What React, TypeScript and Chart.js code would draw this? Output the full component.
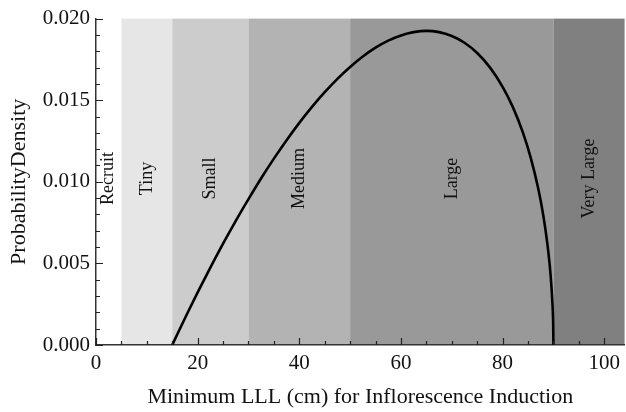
import React, { useEffect, useRef } from "react";
import { Chart, registerables } from "chart.js";

Chart.register(...registerables);

// Curve: minimum LLL (cm) vs probability density
const xValues = [15, 16, 18, 20, 22.5, 25, 27.5, 30, 32.5, 35, 37.5, 40, 42.5, 45, 47.5, 50, 52.5, 55, 57.5, 60, 62.5, 65, 67.5, 70, 72.5, 75, 77.5, 80, 82, 84, 85.5, 87, 88, 88.8, 89.4, 89.8, 89.95, 90];
const yValues = [0, 0.00066, 0.00196, 0.00322, 0.00474, 0.00621, 0.00761, 0.00894, 0.01022, 0.01142, 0.01255, 0.01361, 0.01459, 0.01549, 0.01631, 0.01704, 0.01768, 0.01822, 0.01865, 0.01897, 0.01917, 0.01925, 0.01917, 0.01893, 0.01852, 0.01789, 0.01701, 0.01582, 0.01459, 0.01301, 0.01151, 0.0096, 0.00795, 0.00622, 0.00444, 0.00258, 0.00129, 0];

// Size class bands
const bandLabels = ["Recruit", "Tiny", "Small", "Medium", "Large", "Very Large"];
const bandStarts = [0, 5, 15, 30, 50, 90];
const bandEnds = [5, 15, 30, 50, 90, 104];

// Axis ticks
const xTickValues = [0, 20, 40, 60, 80, 100];
const yTickValues = [0, 0.005, 0.01, 0.015, 0.02];

const bandColors = ["#ffffff", "#e6e6e6", "#cccccc", "#b3b3b3", "#999999", "#808080"];
const FONT = "'Liberation Serif', 'DejaVu Serif', serif";

const bandsPlugin = {
  id: "bands",
  beforeDraw(chart: any) {
    const { ctx, chartArea, scales } = chart;
    const xs = scales.x;
    const ys = scales.y;
    ctx.save();
    for (let i = 0; i < bandLabels.length; i++) {
      const x0 = xs.getPixelForValue(bandStarts[i]);
      const x1 = xs.getPixelForValue(bandEnds[i]);
      ctx.fillStyle = bandColors[i];
      ctx.fillRect(x0, chartArea.top, x1 - x0, chartArea.bottom - chartArea.top);
    }
    const yc = ys.getPixelForValue(0.0102);
    ctx.fillStyle = "#111";
    ctx.font = `18px ${FONT}`;
    ctx.textAlign = "center";
    ctx.textBaseline = "middle";
    for (let i = 0; i < bandLabels.length; i++) {
      const xc = (xs.getPixelForValue(bandStarts[i]) + xs.getPixelForValue(bandEnds[i])) / 2;
      ctx.save();
      ctx.translate(xc, yc);
      ctx.rotate(-Math.PI / 2);
      ctx.fillText(bandLabels[i], 0, 0);
      ctx.restore();
    }
    ctx.restore();
  },
  afterDraw(chart: any) {
    const { ctx, chartArea, scales } = chart;
    const xs = scales.x;
    const ys = scales.y;
    ctx.save();
    ctx.strokeStyle = "#222";
    ctx.lineWidth = 1.2;
    ctx.beginPath();
    for (let v = 0; v <= 104; v += 5) {
      const px = Math.round(xs.getPixelForValue(v)) + 0.5;
      const len = v % 20 === 0 ? 7 : 4;
      ctx.moveTo(px, chartArea.bottom);
      ctx.lineTo(px, chartArea.bottom - len);
    }
    for (let k = 0; k <= 20; k++) {
      const v = k * 0.001;
      const py = Math.round(ys.getPixelForValue(v)) + 0.5;
      const len = k % 5 === 0 ? 7 : 4;
      ctx.moveTo(chartArea.left, py);
      ctx.lineTo(chartArea.left + len, py);
    }
    ctx.stroke();
    ctx.restore();
  },
};

export default function App() {
  const ref = useRef<HTMLCanvasElement | null>(null);
  useEffect(() => {
    if (!ref.current) return;
    const chart = new Chart(ref.current, {
      type: "line",
      data: {
        datasets: [
          {
            data: xValues.map((x, i) => ({ x, y: yValues[i] })),
            borderColor: "#000",
            borderWidth: 2.6,
            pointRadius: 0,
            cubicInterpolationMode: "monotone",
            fill: false,
          },
        ],
      },
      options: {
        animation: false,
        responsive: false,
        events: [],
        layout: { padding: { top: 15, right: 0, left: 0, bottom: 0 } },
        plugins: { legend: { display: false }, tooltip: { enabled: false } },
        scales: {
          x: {
            type: "linear",
            min: 0,
            max: 104,
            grid: { display: false, drawTicks: false },
            border: { display: true, color: "#333", width: 1.5 },
            afterBuildTicks: (s: any) => {
              s.ticks = xTickValues.map((v) => ({ value: v }));
            },
            afterFit: (s: any) => {
              s.height = 67;
            },
            ticks: {
              includeBounds: false,
              padding: 6,
              color: "#111",
              font: { family: FONT, size: 21 },
              maxRotation: 0,
            },
            title: {
              display: true,
              text: "Minimum LLL (cm) for Inflorescence Induction",
              color: "#111",
              font: { family: FONT, size: 22 },
              padding: { top: 0, bottom: 2 },
            },
          },
          y: {
            type: "linear",
            min: 0,
            max: 0.02,
            grid: { display: false, drawTicks: false },
            border: { display: true, color: "#333", width: 1.5 },
            afterBuildTicks: (s: any) => {
              s.ticks = yTickValues.map((v) => ({ value: v }));
            },
            afterFit: (s: any) => {
              s.width = 96;
            },
            ticks: {
              padding: 6,
              color: "#111",
              font: { family: FONT, size: 21 },
              callback: (v: any) => Number(v).toFixed(3),
            },
            title: {
              display: true,
              text: "ProbabilityDensity",
              color: "#111",
              font: { family: FONT, size: 22 },
              padding: { top: 6, bottom: 0 },
            },
          },
        },
      },
      plugins: [bandsPlugin],
    } as any);
    return () => chart.destroy();
  }, []);
  return (
    <div style={{ position: "fixed", left: 0, top: 0, width: 626, height: 412, background: "#fff" }}>
      <canvas ref={ref} width={626} height={412} />
    </div>
  );
}
